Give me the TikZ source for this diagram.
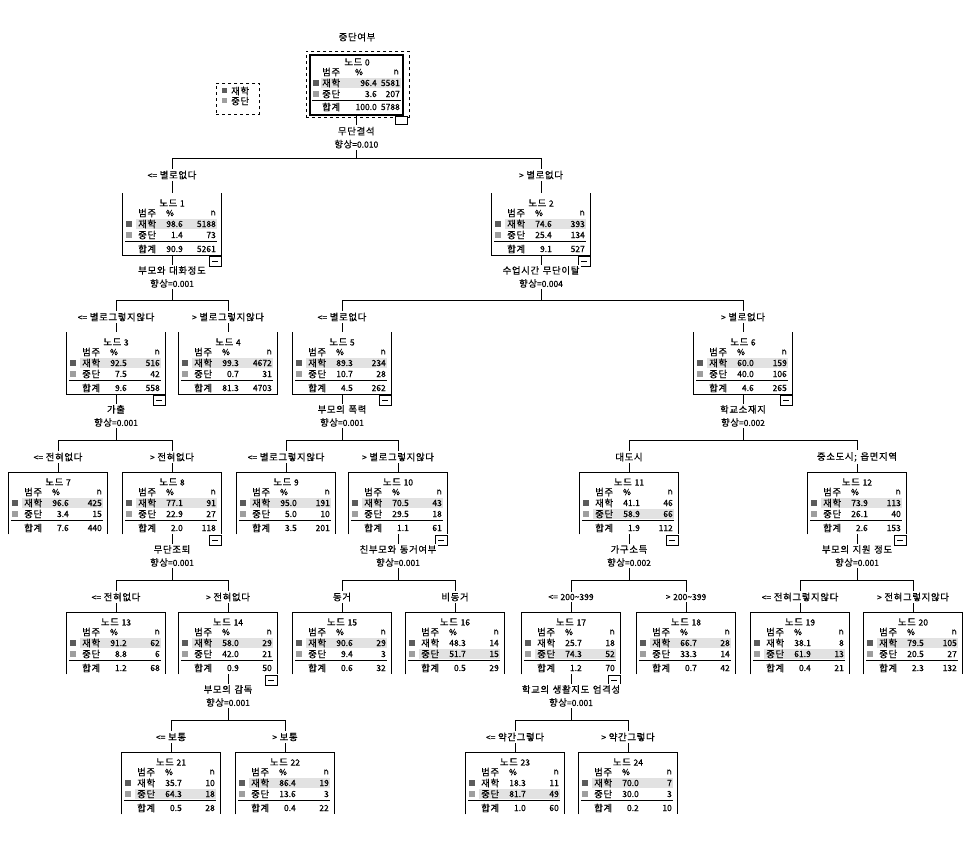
\documentclass[tikz,border=0pt]{standalone}
\usepackage{fontspec}
\newfontfamily\kr[WordSpace=1.4,FakeBold=0.5]{Noto Sans CJK KR}
\newfontfamily\krw[LetterSpace=7,WordSpace=1.3,FakeBold=0.5]{Noto Sans CJK KR}
\newcommand\hg[1]{{\krw\fontsize{9.4}{10}\selectfont #1}}
\definecolor{catA}{RGB}{92,92,92}
\definecolor{catB}{RGB}{158,158,158}
\definecolor{band}{RGB}{226,226,226}

\tikzset{
  txt/.style={font=\kr\fontsize{8.5}{10}\selectfont, inner sep=0pt},
  lbl/.style={txt, fill=white, inner xsep=1.5pt, inner ysep=2pt},
  split/.style={font=\kr\fontsize{8.5}{13}\selectfont, fill=white, align=center, inner xsep=1.5pt, inner ysep=1.5pt},
  conn/.style={line width=0.8pt, black},
  boxline/.style={line width=0.8pt, black},
  rule/.style={line width=0.7pt, black},
  nodebox/.style={anchor=north, minimum width=98pt, minimum height=62pt, inner sep=0pt},
}

% tree node: name, centre x, top y, number, p1, n1, p2, n2, total %, | total n, highlighted row
\newcommand\tnode[9]{%
  \def\tnName{#1}\def\tnX{#2}\def\tnT{#3}\def\tnNum{#4}%
  \def\tnPa{#5}\def\tnNa{#6}\def\tnPb{#7}\def\tnNb{#8}\def\tnPt{#9}%
  \tnodeFinish}
\newcommand\tnodeFinish[2]{%
  \pgfmathsetmacro\tnL{\tnX-49}%
  \pgfmathsetmacro\tnR{\tnX+49}%
  \pgfmathsetmacro\yA{\tnT+10}%
  \pgfmathsetmacro\yH{\tnT+20}%
  \pgfmathsetmacro\yP{\tnT+31}%
  \pgfmathsetmacro\yQ{\tnT+42}%
  \pgfmathsetmacro\yU{\tnT+48}%
  \pgfmathsetmacro\yS{\tnT+56}%
  \pgfmathsetmacro\yBand{\tnT+31+11*(#2-1)}%
  \node[nodebox] (\tnName) at (\tnX,\tnT) {};
  \ifdim\tnT pt<400pt
    \draw[boxline] (\tnName.north west) -- (\tnName.south west) -- (\tnName.south east) -- (\tnName.north east);
  \else
    \draw[boxline] (\tnName.south west) -- (\tnName.north west) -- (\tnName.north east) -- (\tnName.south east);
  \fi
  \fill[band] (\tnL+13,\yBand-5) rectangle (\tnR-4,\yBand+5);
  \node[txt] (\tnName-title) at (\tnX,\yA) {\hg{노드} \tnNum};
  \node[txt, anchor=west] (\tnName-hc) at (\tnL+15,\yH) {\hg{범주}};
  \node[txt] (\tnName-hp) at (\tnL+47,\yH) {\%};
  \node[txt, anchor=east] (\tnName-hn) at (\tnR-5,\yH) {n};
  \fill[catA] (\tnL+3,\yP-3) rectangle (\tnL+9,\yP+3);
  \node[txt, anchor=west] (\tnName-ca) at (\tnL+15,\yP) {\hg{재학}};
  \node[txt, anchor=east] (\tnName-pa) at (\tnL+60,\yP) {\tnPa};
  \node[txt, anchor=east] (\tnName-na) at (\tnR-5,\yP) {\tnNa};
  \fill[catB] (\tnL+3,\yQ-3) rectangle (\tnL+9,\yQ+3);
  \node[txt, anchor=west] (\tnName-cb) at (\tnL+15,\yQ) {\hg{중단}};
  \node[txt, anchor=east] (\tnName-pb) at (\tnL+60,\yQ) {\tnPb};
  \node[txt, anchor=east] (\tnName-nb) at (\tnR-5,\yQ) {\tnNb};
  \draw[rule] (\tnL+2,\yU) -- (\tnR-4,\yU);
  \node[txt, anchor=west] (\tnName-cs) at (\tnL+15,\yS) {\hg{합계}};
  \node[txt, anchor=east] (\tnName-ps) at (\tnL+60,\yS) {\tnPt};
  \node[txt, anchor=east] (\tnName-ns) at (\tnR-5,\yS) {#1};
}

% small collapse button under an expanded node
\newcommand\collapse[1]{%
  \draw[line width=0.7pt] ([xshift=-12pt,yshift=-1pt]#1.south east) rectangle ([yshift=-11pt]#1.south east);
  \draw[line width=0.7pt] ([xshift=-9pt,yshift=-6pt]#1.south east) -- ([xshift=-3pt,yshift=-6pt]#1.south east);}

% elbow connector from parent to child through a bus line
\newcommand\link[3]{\draw[conn] (#1.south) -- (#1.south |- #3) -| (#2.north);}

\begin{document}
\begin{tikzpicture}[x=1pt, y=-1pt]
\useasboundingbox[fill=white] (0,0) rectangle (972,847);

% bus lines and condition label rows
\coordinate (bus0) at (0,158);  \coordinate (lab0) at (0,175);
\coordinate (bus1) at (0,300);  \coordinate (lab1) at (0,317);
\coordinate (bus2) at (0,440);  \coordinate (lab2) at (0,457);
\coordinate (bus3) at (0,580);  \coordinate (lab3) at (0,597);
\coordinate (bus4) at (0,720);  \coordinate (lab4) at (0,737);

% ---- root node ----
\node[txt] (title) at (357,37) {\hg{중단여부}};
\node[draw, dashed, line width=0.7pt, anchor=north west, minimum width=103pt, minimum height=66pt, inner sep=0pt] (n0-frame) at (306,51) {};
\node[draw, line width=1.6pt, anchor=north west, minimum width=93pt, minimum height=60pt, inner sep=0pt] (n0) at (309,54) {};
\fill[band] (321,78) rectangle (401,88);
\node[txt] (n0-title) at (357,62) {\hg{노드} 0};
\node[txt, anchor=west] (n0-hc) at (322,72) {\hg{범주}};
\node[txt] (n0-hp) at (359,72) {\%};
\node[txt, anchor=east] (n0-hn) at (399,72) {n};
\fill[catA] (313,80) rectangle (319,86);
\node[txt, anchor=west] (n0-ca) at (322,83) {\hg{재학}};
\node[txt, anchor=east] (n0-pa) at (377,83) {96.4};
\node[txt, anchor=east] (n0-na) at (400,83) {5581};
\fill[catB] (313,91) rectangle (319,97);
\node[txt, anchor=west] (n0-cb) at (322,94) {\hg{중단}};
\node[txt, anchor=east] (n0-pb) at (377,94) {3.6};
\node[txt, anchor=east] (n0-nb) at (400,94) {207};
\draw[rule] (312,100) -- (401,100);
\node[txt, anchor=west] (n0-cs) at (322,107) {\hg{합계}};
\node[txt, anchor=east] (n0-ps) at (377,107) {100.0};
\node[txt, anchor=east] (n0-ns) at (400,107) {5788};
\draw[line width=0.7pt, fill=white] (395,116) rectangle (407,124);

% ---- legend ----
\node[draw, dashed, line width=0.7pt, anchor=north west, minimum width=43pt, minimum height=31pt, inner sep=0pt] (legend) at (216,83) {};
\fill[catA] (222,88) rectangle (227,93);
\node[txt, anchor=west] (legend-a) at (231,91) {\hg{재학}};
\fill[catB] (222,98) rectangle (227,103);
\node[txt, anchor=west] (legend-b) at (231,101) {\hg{중단}};

% ---- tree nodes ----
\tnode{n1}{172}{193}{1}{98.6}{5188}{1.4}{73}{90.9}{5261}{1}
\tnode{n2}{541}{193}{2}{74.6}{393}{25.4}{134}{9.1}{527}{1}
\tnode{n3}{116}{332}{3}{92.5}{516}{7.5}{42}{9.6}{558}{1}
\tnode{n4}{228}{332}{4}{99.3}{4672}{0.7}{31}{81.3}{4703}{1}
\tnode{n5}{342}{332}{5}{89.3}{234}{10.7}{28}{4.5}{262}{1}
\tnode{n6}{743}{332}{6}{60.0}{159}{40.0}{106}{4.6}{265}{1}
\tnode{n7}{58}{472}{7}{96.6}{425}{3.4}{15}{7.6}{440}{1}
\tnode{n8}{172}{472}{8}{77.1}{91}{22.9}{27}{2.0}{118}{1}
\tnode{n9}{286}{472}{9}{95.0}{191}{5.0}{10}{3.5}{201}{1}
\tnode{n10}{398}{472}{10}{70.5}{43}{29.5}{18}{1.1}{61}{1}
\tnode{n11}{629}{472}{11}{41.1}{46}{58.9}{66}{1.9}{112}{2}
\tnode{n12}{857}{472}{12}{73.9}{113}{26.1}{40}{2.6}{153}{1}
\tnode{n13}{116}{612}{13}{91.2}{62}{8.8}{6}{1.2}{68}{1}
\tnode{n14}{228}{612}{14}{58.0}{29}{42.0}{21}{0.9}{50}{1}
\tnode{n15}{342}{612}{15}{90.6}{29}{9.4}{3}{0.6}{32}{1}
\tnode{n16}{455}{612}{16}{48.3}{14}{51.7}{15}{0.5}{29}{2}
\tnode{n17}{571}{612}{17}{25.7}{18}{74.3}{52}{1.2}{70}{2}
\tnode{n18}{686}{612}{18}{66.7}{28}{33.3}{14}{0.7}{42}{1}
\tnode{n19}{800}{612}{19}{38.1}{8}{61.9}{13}{0.4}{21}{2}
\tnode{n20}{913}{612}{20}{79.5}{105}{20.5}{27}{2.3}{132}{1}
\tnode{n21}{171}{752}{21}{35.7}{10}{64.3}{18}{0.5}{28}{2}
\tnode{n22}{285}{752}{22}{86.4}{19}{13.6}{3}{0.4}{22}{1}
\tnode{n23}{515}{752}{23}{18.3}{11}{81.7}{49}{1.0}{60}{2}
\tnode{n24}{628}{752}{24}{70.0}{7}{30.0}{3}{0.2}{10}{1}

% ---- connectors ----
\link{n0}{n1}{bus0} \link{n0}{n2}{bus0}
\link{n1}{n3}{bus1} \link{n1}{n4}{bus1}
\link{n2}{n5}{bus1} \link{n2}{n6}{bus1}
\link{n3}{n7}{bus2} \link{n3}{n8}{bus2}
\link{n5}{n9}{bus2} \link{n5}{n10}{bus2}
\link{n6}{n11}{bus2} \link{n6}{n12}{bus2}
\link{n8}{n13}{bus3} \link{n8}{n14}{bus3}
\link{n10}{n15}{bus3} \link{n10}{n16}{bus3}
\link{n11}{n17}{bus3} \link{n11}{n18}{bus3}
\link{n12}{n19}{bus3} \link{n12}{n20}{bus3}
\link{n14}{n21}{bus4} \link{n14}{n22}{bus4}
\link{n17}{n23}{bus4} \link{n17}{n24}{bus4}

% collapse buttons of expanded nodes
\foreach \p in {n1,n2,n3,n5,n6,n8,n10,n11,n12,n14,n17} {\collapse{\p}}

% ---- split variables ----
\node[split] (n0-split) at ([yshift=-22pt]n0.south) {\hg{무단결석}\\\hg{향상}=0.010};
\node[split] (n1-split) at ([yshift=-21.5pt]n1.south) {\hg{부모와 대화정도}\\\hg{향상}=0.001};
\node[split] (n2-split) at ([yshift=-21.5pt]n2.south) {\hg{수업시간 무단이탈}\\\hg{향상}=0.004};
\node[split] (n3-split) at ([yshift=-21.5pt]n3.south) {\hg{가출}\\\hg{향상}=0.001};
\node[split] (n5-split) at ([yshift=-21.5pt]n5.south) {\hg{부모의 폭력}\\\hg{향상}=0.001};
\node[split] (n6-split) at ([yshift=-21.5pt]n6.south) {\hg{학교소재지}\\\hg{향상}=0.002};
\node[split] (n8-split) at ([yshift=-21.5pt]n8.south) {\hg{무단조퇴}\\\hg{향상}=0.001};
\node[split] (n10-split) at ([yshift=-21.5pt]n10.south) {\hg{친부모와 동거여부}\\\hg{향상}=0.001};
\node[split] (n11-split) at ([yshift=-21.5pt]n11.south) {\hg{가구소득}\\\hg{향상}=0.002};
\node[split] (n12-split) at ([yshift=-21.5pt]n12.south) {\hg{부모의 지원 정도}\\\hg{향상}=0.001};
\node[split] (n14-split) at ([yshift=-21.5pt]n14.south) {\hg{부모의 감독}\\\hg{향상}=0.001};
\node[split] (n17-split) at ([yshift=-21.5pt]n17.south) {\hg{학교의 생활지도 엄격성}\\\hg{향상}=0.001};

% ---- branch conditions ----
\node[lbl] (n1-cond) at (n1.north |- lab0) {<= \hg{별로없다}};
\node[lbl] (n2-cond) at (n2.north |- lab0) {> \hg{별로없다}};
\node[lbl] (n3-cond) at (n3.north |- lab1) {<= \hg{별로그렇지않다}};
\node[lbl] (n4-cond) at (n4.north |- lab1) {> \hg{별로그렇지않다}};
\node[lbl] (n5-cond) at (n5.north |- lab1) {<= \hg{별로없다}};
\node[lbl] (n6-cond) at (n6.north |- lab1) {> \hg{별로없다}};
\node[lbl] (n7-cond) at (n7.north |- lab2) {<= \hg{전혀없다}};
\node[lbl] (n8-cond) at (n8.north |- lab2) {> \hg{전혀없다}};
\node[lbl] (n9-cond) at (n9.north |- lab2) {<= \hg{별로그렇지않다}};
\node[lbl] (n10-cond) at (n10.north |- lab2) {> \hg{별로그렇지않다}};
\node[lbl] (n11-cond) at (n11.north |- lab2) {\hg{대도시}};
\node[lbl] (n12-cond) at (n12.north |- lab2) {\hg{중소도시; 읍면지역}};
\node[lbl] (n13-cond) at (n13.north |- lab3) {<= \hg{전혀없다}};
\node[lbl] (n14-cond) at (n14.north |- lab3) {> \hg{전혀없다}};
\node[lbl] (n15-cond) at (n15.north |- lab3) {\hg{동거}};
\node[lbl] (n16-cond) at (n16.north |- lab3) {\hg{비동거}};
\node[lbl] (n17-cond) at (n17.north |- lab3) {<= 200\textasciitilde 399};
\node[lbl] (n18-cond) at (n18.north |- lab3) {> 200\textasciitilde 399};
\node[lbl] (n19-cond) at (n19.north |- lab3) {<= \hg{전혀그렇지않다}};
\node[lbl] (n20-cond) at (n20.north |- lab3) {> \hg{전혀그렇지않다}};
\node[lbl] (n21-cond) at (n21.north |- lab4) {<= \hg{보통}};
\node[lbl] (n22-cond) at (n22.north |- lab4) {> \hg{보통}};
\node[lbl] (n23-cond) at (n23.north |- lab4) {<= \hg{약간그렇다}};
\node[lbl] (n24-cond) at (n24.north |- lab4) {> \hg{약간그렇다}};
\end{tikzpicture}
\end{document}
